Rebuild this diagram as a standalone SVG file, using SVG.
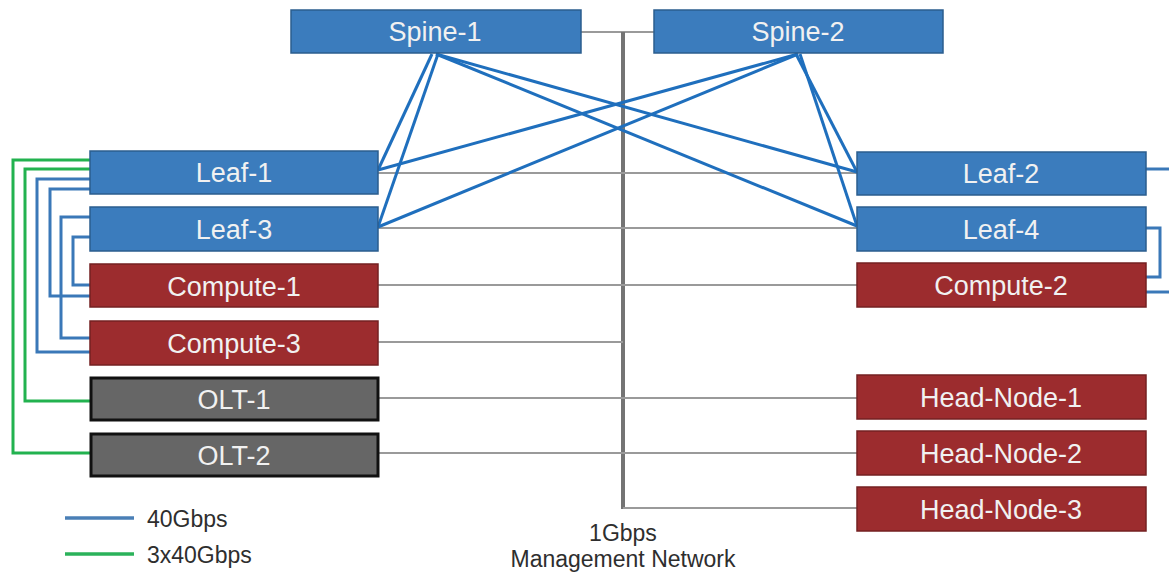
<svg xmlns="http://www.w3.org/2000/svg" width="1169" height="574" viewBox="0 0 1169 574">
  <style>
    .sw { fill: #3b7cbd; stroke: #2b5d8e; stroke-width: 1.5; }
    .cn { fill: #9c2c2e; stroke: #742022; stroke-width: 1.5; }
    .olt { fill: #666666; stroke: #111111; stroke-width: 3; }
    .lbl { font-family: "Liberation Sans", Arial, sans-serif; font-size: 27px; fill: #f1f1f1; text-anchor: middle; }
    .note { font-family: "Liberation Sans", Arial, sans-serif; font-size: 23px; fill: #2e2e2e; }
    .mgmt { stroke: #9a9a9a; stroke-width: 2; fill: none; }
    .bus { stroke: #747474; stroke-width: 4; fill: none; }
    .g40 { stroke: #1f6fbd; stroke-width: 3; fill: none; }
    .b40 { stroke: #3a78b8; stroke-width: 3; fill: none; }
    .g120 { stroke: #22b24f; stroke-width: 3; fill: none; }
  </style>

  <!-- connectors -->
  <g id="connectors">
    <!-- 1Gbps management network -->
    <g id="management">
      <line class="mgmt" x1="581" y1="32" x2="654" y2="32"/>
      <line class="bus" x1="623" y1="32" x2="623" y2="509"/>
      <line class="mgmt" x1="378" y1="173" x2="857" y2="173"/>
      <line class="mgmt" x1="378" y1="228" x2="857" y2="228"/>
      <line class="mgmt" x1="378" y1="285" x2="857" y2="285"/>
      <line class="mgmt" x1="378" y1="342" x2="623" y2="342"/>
      <line class="mgmt" x1="378" y1="398" x2="857" y2="398"/>
      <line class="mgmt" x1="378" y1="453" x2="857" y2="453"/>
      <line class="mgmt" x1="623" y1="508" x2="857" y2="508"/>
    </g>
    <!-- spine to leaf 40Gbps -->
    <g id="fabric">
      <line class="g40" x1="432" y1="54" x2="378" y2="170"/>
      <line class="g40" x1="438" y1="54" x2="378" y2="227"/>
      <line class="g40" x1="436" y1="54" x2="857" y2="172"/>
      <line class="g40" x1="436" y1="54" x2="857" y2="226"/>
      <line class="g40" x1="798" y1="54" x2="378" y2="170"/>
      <line class="g40" x1="798" y1="54" x2="378" y2="227"/>
      <line class="g40" x1="796" y1="54" x2="857" y2="172"/>
      <line class="g40" x1="800" y1="54" x2="857" y2="226"/>
    </g>
    <!-- leaf to server 40Gbps, left side -->
    <g id="left-links">
      <polyline class="g120" points="90,160 13,160 13,453 90,453"/>
      <polyline class="g120" points="90,169 25,169 25,401 90,401"/>
      <polyline class="b40" points="90,179 37,179 37,352 90,352"/>
      <polyline class="b40" points="90,189 50,189 50,296 90,296"/>
      <polyline class="b40" points="90,217 61,217 61,338 90,338"/>
      <polyline class="b40" points="90,237 73,237 73,285 90,285"/>
    </g>
    <!-- leaf to server 40Gbps, right side -->
    <g id="right-links">
      <line class="b40" x1="1146" y1="169" x2="1169" y2="169"/>
      <polyline class="b40" points="1146,228 1160,228 1160,277 1146,277"/>
      <line class="b40" x1="1146" y1="292" x2="1169" y2="292"/>
    </g>
  </g>

  <!-- spine switches -->
  <g id="spine-1"><rect class="sw" x="291" y="10" width="290" height="43"/><text class="lbl" x="435" y="41">Spine-1</text></g>
  <g id="spine-2"><rect class="sw" x="654" y="10" width="289" height="43"/><text class="lbl" x="798" y="41">Spine-2</text></g>

  <!-- left column -->
  <g id="leaf-1"><rect class="sw" x="90" y="151" width="288" height="43"/><text class="lbl" x="234" y="182">Leaf-1</text></g>
  <g id="leaf-3"><rect class="sw" x="90" y="207" width="288" height="44"/><text class="lbl" x="234" y="239">Leaf-3</text></g>
  <g id="compute-1"><rect class="cn" x="90" y="264" width="288" height="43"/><text class="lbl" x="234" y="296">Compute-1</text></g>
  <g id="compute-3"><rect class="cn" x="90" y="321" width="288" height="44"/><text class="lbl" x="234" y="353">Compute-3</text></g>
  <g id="olt-1"><rect class="olt" x="91" y="378" width="287" height="42"/><text class="lbl" x="234" y="409">OLT-1</text></g>
  <g id="olt-2"><rect class="olt" x="91" y="434" width="287" height="42"/><text class="lbl" x="234" y="465">OLT-2</text></g>

  <!-- right column -->
  <g id="leaf-2"><rect class="sw" x="857" y="152" width="289" height="43"/><text class="lbl" x="1001" y="183">Leaf-2</text></g>
  <g id="leaf-4"><rect class="sw" x="857" y="207" width="289" height="44"/><text class="lbl" x="1001" y="239">Leaf-4</text></g>
  <g id="compute-2"><rect class="cn" x="857" y="263" width="289" height="44"/><text class="lbl" x="1001" y="295">Compute-2</text></g>
  <g id="head-node-1"><rect class="cn" x="857" y="375" width="289" height="44"/><text class="lbl" x="1001" y="407">Head-Node-1</text></g>
  <g id="head-node-2"><rect class="cn" x="857" y="431" width="289" height="44"/><text class="lbl" x="1001" y="463">Head-Node-2</text></g>
  <g id="head-node-3"><rect class="cn" x="857" y="487" width="289" height="44"/><text class="lbl" x="1001" y="519">Head-Node-3</text></g>

  <!-- legend -->
  <g id="legend">
    <line x1="65" y1="518" x2="134" y2="518" stroke="#4a7fb6" stroke-width="3.5"/>
    <text class="note" x="147" y="527">40Gbps</text>
    <line x1="65" y1="554" x2="134" y2="554" stroke="#2bb25a" stroke-width="3.5"/>
    <text class="note" x="147" y="563">3x40Gbps</text>
  </g>

  <!-- management network caption -->
  <g id="mgmt-label">
    <text class="note" x="623" y="541" text-anchor="middle">1Gbps</text>
    <text class="note" x="623" y="567" text-anchor="middle">Management Network</text>
  </g>
</svg>
